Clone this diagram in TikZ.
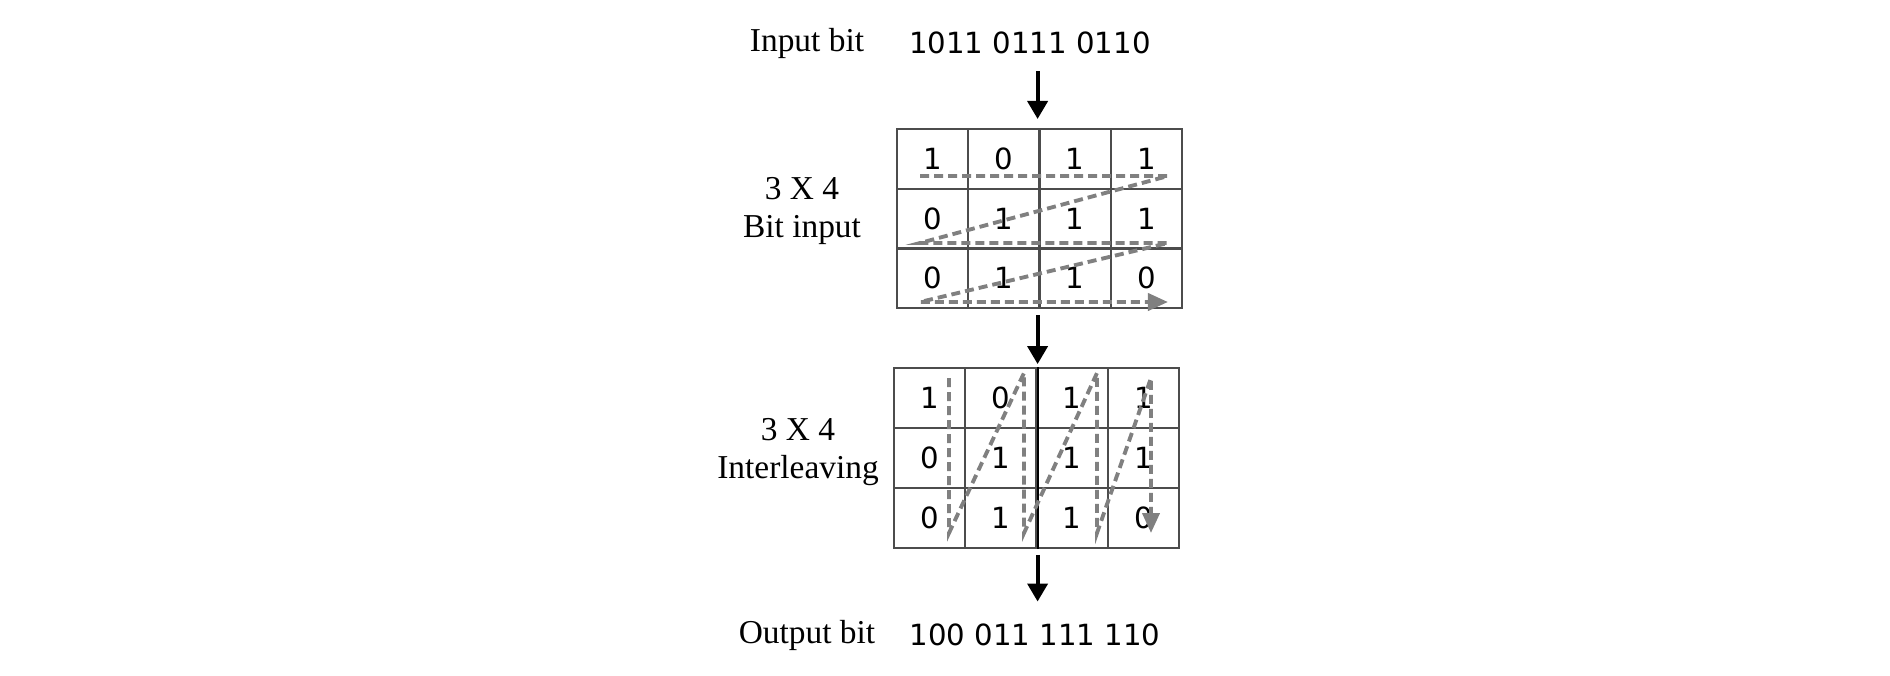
\documentclass[tikz,border=0pt]{standalone}
\usepackage{fontspec}
\setmainfont{Liberation Serif}
\newfontfamily\bitfont{DejaVu Sans}
\usetikzlibrary{arrows.meta}
\begin{document}
\begin{tikzpicture}[x=0.01cm,y=-0.01cm,
every node/.style={font=\fontsize{9.5}{10.8}\selectfont},
bits/.style={font=\bitfont\fontsize{8.3}{10}\selectfont},
cell/.style={draw=black!70,line width=0.6pt,minimum width=0.7125cm,minimum height=0.597cm,inner sep=0pt,bits},
downarrow/.style={line width=1.1pt,-{Triangle[width=0.2cm,length=0.18cm]}},
flow/.style={draw=gray,line width=1.1pt,dash pattern=on 0.09cm off 0.05cm,-{Triangle[width=0.17cm,length=0.2cm,fill=gray]}}]

\useasboundingbox (0,0) rectangle (1890,675);

\node (inlabel) at (807,43) {Input bit};
\node[bits] (inbits) at (1030,43) {1011 0111 0110};

% row by row
\foreach \r/\row in {1/{1,0,1,1},2/{0,1,1,1},3/{0,1,1,0}}
  \foreach \b [count=\c] in \row
    \node[cell] (a\r\c) at (861.4+71.25*\c,99.2+59.7*\r) {\b};
\node[align=center] (rowlabel) at (802,211) {3 X 4\\Bit input};

% column by column
\foreach \r/\row in {1/{1,0,1,1},2/{0,1,1,1},3/{0,1,1,0}}
  \foreach \b [count=\c] in \row
    \node[cell] (b\r\c) at (858.4+71.25*\c,338+60*\r) {\b};
\draw[line width=0.6pt] (b12.north east) -- (b32.south east);
\node[align=center] (collabel) at (798,452) {3 X 4\\Interleaving};

\node (outlabel) at (807,635) {Output bit};
\node[bits] (outbits) at (1035,635) {100 011 111 110};

\draw[flow] (920,176) -- (1168,176) -- (920,243) -- (1168,243) -- (920,302) -- (1168,302);
\draw[flow] (949,378) -- (949,533) -- (1024,373) -- (1024,533) -- (1097,373) -- (1097,533) -- (1151,378) -- (1151,533);

\draw[downarrow,shorten <=0.05cm,shorten >=0.09cm] (inbits.south -| b12.north east) -- (a12.north -| b12.north east);
\draw[downarrow,shorten <=0.06cm,shorten >=0.03cm] (a32.south -| b12.north east) -- (b12.north east);
\draw[downarrow,shorten <=0.06cm,shorten >=0.1cm] (b32.south east) -- (outbits.north -| b32.south east);

\end{tikzpicture}
\end{document}
